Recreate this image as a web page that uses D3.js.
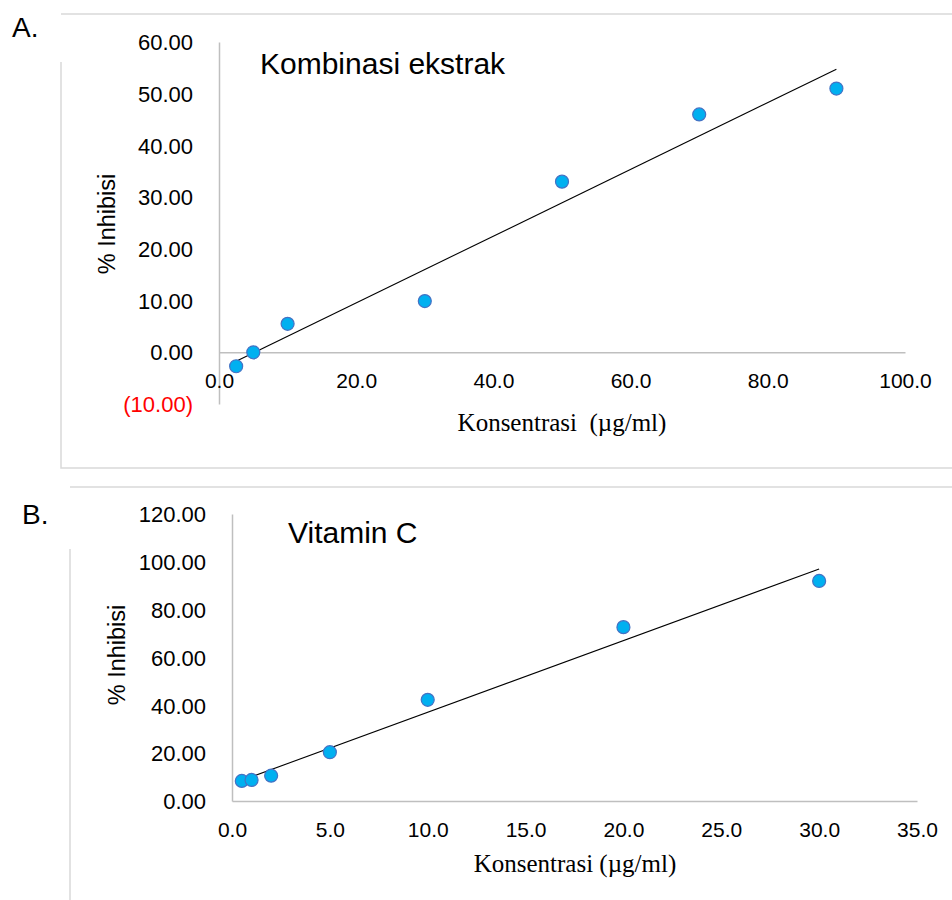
<!DOCTYPE html>
<html>
<head>
<meta charset="utf-8">
<script src="https://cdn.jsdelivr.net/npm/d3@7/dist/d3.min.js"></script>
<style>
  body { margin: 0; background: #fff; }
  svg { display: block; font-family: Arial, "Liberation Sans", sans-serif; }
</style>
</head>
<body>
<svg id="chart" width="952" height="900"></svg>
<script>
// A. kombinasi ekstrak
var concA = [2.5, 5, 10, 30, 50, 70, 90];
var inhibA = [-2.7, 0.0, 5.5, 9.9, 33.0, 46.0, 51.0];
var xTicksA = [0, 20, 40, 60, 80, 100];
var yTicksA = [-10, 0, 10, 20, 30, 40, 50, 60];

// B. vitamin C
var concB = [0.5, 1, 2, 5, 10, 20, 30];
var inhibB = [8.4, 8.8, 10.6, 20.4, 42.3, 72.7, 92.0];
var xTicksB = [0, 5, 10, 15, 20, 25, 30, 35];
var yTicksB = [0, 20, 40, 60, 80, 100, 120];

var svg = d3.select("#chart");

var panels = [
    { tag: "A.", title: "Kombinasi ekstrak", xTitle: "Konsentrasi  (\u00b5g/ml)",
      xs: concA, ys: inhibA, xTicks: xTicksA, yTicks: yTicksA,
      left: 219, right: 905, top: 42, bottom: 404,
      box: { x: 61, y: 14, bottom: 468, leftFrom: 62 },
      tagPos: [12, 37], titlePos: [260, 74], yTitlePos: [107, 224], xTitlePos: [562, 431] },
    { tag: "B.", title: "Vitamin C", xTitle: "Konsentrasi (\u00b5g/ml)",
      xs: concB, ys: inhibB, xTicks: xTicksB, yTicks: yTicksB,
      left: 232, right: 917, top: 514, bottom: 801,
      box: { x: 70, y: 487, bottom: 905, leftFrom: 549 },
      tagPos: [22, 524], titlePos: [288, 543], yTitlePos: [117, 655], xTitlePos: [575, 872] }
];

function fmtY(d) {
    return d < 0 ? "(" + Math.abs(d).toFixed(2) + ")" : d.toFixed(2);
}

// least squares line, like excel's linear trendline
function fit(xs, ys) {
    var mx = d3.mean(xs), my = d3.mean(ys);
    var sxy = d3.sum(xs, function (x, i) { return (x - mx) * (ys[i] - my); });
    var sxx = d3.sum(xs, function (x) { return (x - mx) * (x - mx); });
    var b = sxy / sxx;
    return { slope: b, icpt: my - b * mx };
}

panels.forEach(function (p) {
    var g = svg.append("g");
    var x = d3.scaleLinear()
        .domain(d3.extent(p.xTicks))
        .range([p.left, p.right]);
    var y = d3.scaleLinear()
        .domain(d3.extent(p.yTicks))
        .range([p.bottom, p.top]);

    // frame (left edge is clipped short in the original)
    g.append("path")
        .attr("d", "M952," + p.box.y + "H" + p.box.x + "M" + p.box.x + "," + p.box.leftFrom +
            "V" + p.box.bottom + "H952")
        .attr("fill", "none")
        .attr("stroke", "#d9d9d9")
        .attr("stroke-width", 1.5);

    // y axis
    var yAxis = g.append("g")
        .attr("transform", "translate(" + p.left + ",0)")
        .call(d3.axisLeft(y).tickValues(p.yTicks).tickSize(0).tickPadding(26).tickFormat(fmtY));
    yAxis.select(".domain").attr("stroke", "#bfbfbf").attr("stroke-width", 1.5);
    yAxis.selectAll("text")
        .attr("font-size", 22)
        .attr("font-family", "Arial, 'Liberation Sans', sans-serif")
        .attr("dy", "0.35em")
        .attr("fill", function (d) { return d < 0 ? "#ff0000" : "#000"; });

    // x axis sits on y = 0
    var xAxis = g.append("g")
        .attr("transform", "translate(0," + y(0) + ")")
        .call(d3.axisBottom(x).tickValues(p.xTicks).tickSize(0).tickPadding(21)
            .tickFormat(function (d) { return d.toFixed(1); }));
    xAxis.select(".domain").attr("stroke", "#bfbfbf").attr("stroke-width", 1.5);
    xAxis.selectAll("text")
        .attr("font-size", 21)
        .attr("font-family", "Arial, 'Liberation Sans', sans-serif")
        .attr("fill", "#000");

    // trendline
    var t = fit(p.xs, p.ys);
    var x0 = d3.min(p.xs), x1 = d3.max(p.xs);
    g.append("line")
        .attr("x1", x(x0)).attr("y1", y(t.icpt + t.slope * x0))
        .attr("x2", x(x1)).attr("y2", y(t.icpt + t.slope * x1))
        .attr("stroke", "#000")
        .attr("stroke-width", 1.1);

    // points
    g.selectAll("circle.pt")
        .data(p.xs)
        .enter().append("circle")
        .attr("class", "pt")
        .attr("cx", function (d) { return x(d); })
        .attr("cy", function (d, i) { return y(p.ys[i]); })
        .attr("r", 6.5)
        .attr("fill", "#00b0f0")
        .attr("stroke", "#4472c4")
        .attr("stroke-width", 1.2);

    // texts
    g.append("text")
        .attr("x", p.tagPos[0]).attr("y", p.tagPos[1])
        .attr("font-size", 28)
        .text(p.tag);
    g.append("text")
        .attr("x", p.titlePos[0]).attr("y", p.titlePos[1])
        .attr("font-size", 30)
        .text(p.title);
    g.append("text")
        .attr("transform", "translate(" + p.yTitlePos[0] + "," + p.yTitlePos[1] + ") rotate(-90)")
        .attr("text-anchor", "middle")
        .attr("dy", "0.35em")
        .attr("font-size", 23.5)
        .text("% Inhibisi");
    g.append("text")
        .attr("x", p.xTitlePos[0]).attr("y", p.xTitlePos[1])
        .attr("text-anchor", "middle")
        .attr("font-family", "'Times New Roman', 'Liberation Serif', serif")
        .attr("font-size", 25)
        .style("white-space", "pre")
        .text(p.xTitle);
});
</script>
</body>
</html>
